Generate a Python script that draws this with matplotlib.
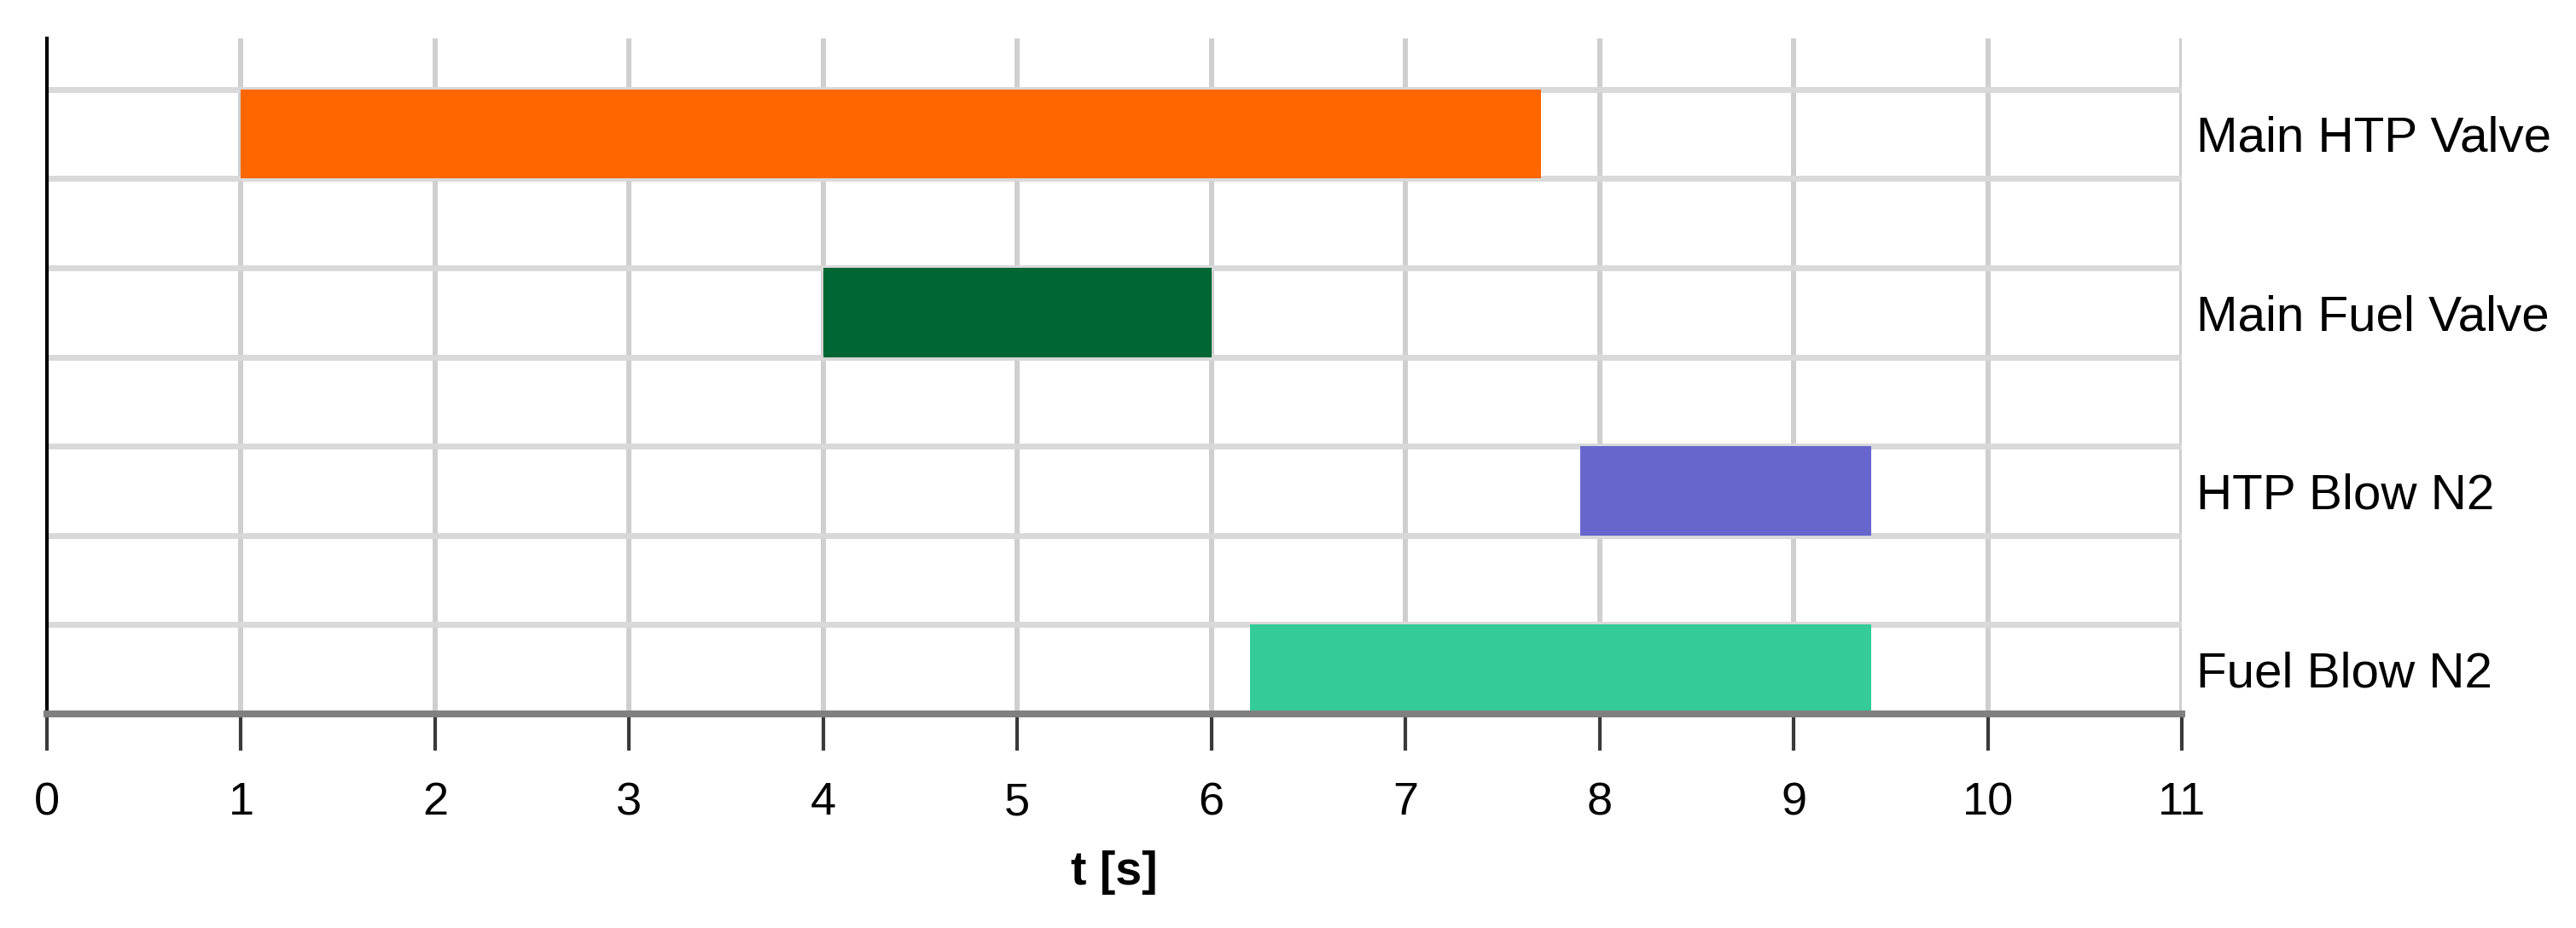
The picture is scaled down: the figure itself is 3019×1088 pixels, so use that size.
import matplotlib
matplotlib.use('Agg')
import matplotlib.pyplot as plt

plt.rcParams['font.family'] = ['Liberation Sans', 'DejaVu Sans']

# valve timing (seconds)
tasks = ['Fuel Blow N2', 'HTP Blow N2', 'Main Fuel Valve', 'Main HTP Valve']
t_start = [6.2, 7.9, 4.0, 1.0]
t_end = [9.4, 9.4, 6.0, 7.7]
colors = ['#33CC99', '#6666CC', '#006633', '#FF6600']
row_pos = [0, 2, 4, 6]

fig = plt.figure(figsize=(30.19, 10.88), dpi=100)
ax = fig.add_axes([55/3019, 1 - 837/1088, (2557-55)/3019, (837-45)/1088])

widths = [e - s for s, e in zip(t_start, t_end)]
ax.barh(row_pos, widths, left=t_start, height=1.0, align='edge',
        color=colors, zorder=3)

ax.set_xlim(0, 11)
ax.set_ylim(0, 7.57)

# grid
for x in range(1, 12):
    ax.axvline(x, color='#cfcfcf', lw=4.3, zorder=1)
for y in range(1, 8):
    ax.axhline(y, color='#d9d9d9', lw=5, zorder=1)

ax.set_xticks(range(0, 12))
ax.tick_params(axis='x', direction='out', length=31, width=3, color='#3a3a3a',
               labelsize=39, pad=26)

# labels on the right
ax.yaxis.tick_right()
ax.set_yticks([p + 0.5 for p in row_pos])
ax.set_yticklabels(tasks)
ax.tick_params(axis='y', length=0, labelsize=42, pad=12)

for s in ['top', 'right']:
    ax.spines[s].set_visible(False)
ax.spines['left'].set_color('black')
ax.spines['left'].set_linewidth(3)
ax.spines['bottom'].set_color('#808080')
ax.spines['bottom'].set_linewidth(5.8)
ax.spines['bottom'].set_zorder(4)

ax.set_xlabel('t [s]', fontsize=40, fontweight='bold')
ax.xaxis.label.set_va('baseline')
ax.xaxis.set_label_coords(0.5, -(1037 - 837) / 792)

fig.savefig('out.png', dpi=100)
